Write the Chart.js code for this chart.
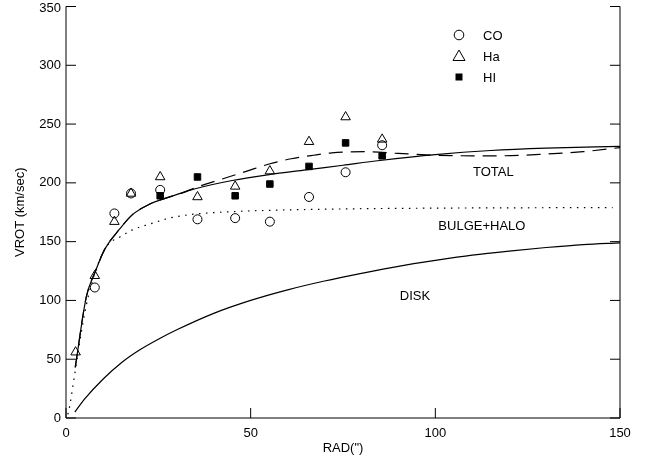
<!DOCTYPE html>
<html>
<head>
<meta charset="utf-8">
<script src="https://cdn.jsdelivr.net/npm/chart.js@4.4.1/dist/chart.umd.min.js"></script>
<style>
  html, body { margin: 0; padding: 0; background: #fff; }
  #wrap { width: 650px; height: 461px; }
</style>
</head>
<body>
<div id="wrap"><canvas id="rotChart"></canvas></div>
<script>
// observed points
const radCO = [7.8, 13.1, 17.6, 25.5, 35.6, 45.8, 55.2, 65.8, 75.7, 85.6];
const vrotCO = [111, 174, 191, 194, 169, 170, 167, 188, 209, 232];

const radHa = [2.6, 7.8, 13.1, 17.6, 25.5, 35.6, 45.8, 55.2, 65.8, 75.7, 85.6];
const vrotHa = [56, 121, 167, 191, 205, 188, 197, 210, 235, 256, 237];

const radHI = [25.5, 35.6, 45.8, 55.2, 65.8, 75.7, 85.6];
const vrotHI = [189, 205, 189, 199, 214, 234, 223];

// model curves
const radTotal = [2.5, 5.5, 8, 10.4, 14.6, 18, 22.7, 26, 31, 35, 45, 55, 65, 75, 85, 100, 115, 130, 150];
const vrotTotal = [43, 103, 125, 143, 161, 173, 182, 186, 191, 195, 202, 207, 211, 215, 219, 224, 227.5, 229.5, 231];

const radBulge = [0.5, 1, 2, 3, 4, 5, 6, 8, 11, 14.6, 18, 22.7, 28, 33.6, 45, 60, 80, 100, 148];
const vrotBulge = [3, 10, 30, 50, 70, 88, 103, 125, 146, 154, 160, 165, 170, 173, 175.5, 177, 178, 178.5, 179];

const radDisk = [2.4, 5, 10, 15, 20, 25, 30, 40, 50, 60, 70, 80, 90, 100, 110, 120, 130, 140, 150];
const vrotDisk = [5, 16, 33, 47, 58, 67, 75, 89, 100, 109, 116.5, 123, 129, 134, 138.5, 142, 145, 147.5, 149];

const radDash = [2.5, 5.5, 8, 10.4, 14.6, 18, 22.7, 26, 31, 36, 42, 49, 55, 61, 67, 72, 81, 90, 100, 110, 117, 130, 140, 150];
const vrotDash = [43, 103, 125, 143, 161, 173, 182, 186, 191, 197, 203, 210, 216, 220.5, 223.5, 225.5, 226.5, 225, 223.5, 223, 223, 224.5, 226.5, 230];

const xTicks = [0, 50, 100, 150];
const yTicks = [0, 50, 100, 150, 200, 250, 300, 350];

// curve names placed in data space
const curveNames = ['TOTAL', 'BULGE+HALO', 'DISK'];
const nameRad = [115.7, 112.6, 94.5];
const nameVrot = [208.8, 163.2, 103.7];

const legendNames = ['CO', 'Ha', 'HI'];

const FONT = "'Liberation Sans', Arial, Helvetica, sans-serif";

function toXY(xs, ys) {
    return xs.map((x, i) => ({ x: x, y: ys[i] }));
}

function curve(xs, ys, dash) {
    return {
        data: toXY(xs, ys),
        showLine: true,
        borderColor: '#000',
        borderWidth: 1.2,
        borderDash: dash,
        pointRadius: 0,
        cubicInterpolationMode: 'monotone',
        fill: false
    };
}

function marks(xs, ys, style, radius, filled) {
    return {
        data: toXY(xs, ys),
        showLine: false,
        pointStyle: style,
        pointRadius: radius,
        pointHoverRadius: radius,
        pointBorderColor: '#000',
        pointBorderWidth: 1,
        pointBackgroundColor: filled ? '#000' : 'rgba(0,0,0,0)'
    };
}

// axis frame with inward ticks, y labels, right axis, curve names and legend
const framePlugin = {
    id: 'frame',
    afterDraw(chart) {
        const ctx = chart.ctx;
        const area = chart.chartArea;
        const sx = chart.scales.x;
        const sy = chart.scales.y;
        const len = 10;
        ctx.save();
        ctx.strokeStyle = '#000';
        ctx.lineWidth = 1;
        ctx.beginPath();
        ctx.moveTo(area.left, area.top);
        ctx.lineTo(area.left, area.bottom);
        ctx.lineTo(area.right, area.bottom);
        ctx.lineTo(area.right, area.top);
        xTicks.forEach(v => {
            const px = sx.getPixelForValue(v);
            ctx.moveTo(px, area.bottom);
            ctx.lineTo(px, area.bottom - len);
        });
        yTicks.forEach(v => {
            const py = sy.getPixelForValue(v);
            ctx.moveTo(area.left, py);
            ctx.lineTo(area.left + len, py);
            ctx.moveTo(area.right, py);
            ctx.lineTo(area.right - len, py);
        });
        ctx.stroke();

        ctx.fillStyle = '#000';
        ctx.font = '13px ' + FONT;
        ctx.textBaseline = 'middle';

        // y tick labels (top one kept inside the canvas)
        ctx.textAlign = 'right';
        yTicks.forEach(v => {
            const py = Math.max(sy.getPixelForValue(v), 8);
            ctx.fillText(String(v), area.left - 5, py);
        });

        ctx.textAlign = 'center';
        curveNames.forEach((t, i) => {
            ctx.fillText(t, sx.getPixelForValue(nameRad[i]), sy.getPixelForValue(nameVrot[i]));
        });

        // legend, top right
        const lx = area.left + 393;
        const ly = [35, 56, 77];
        ctx.beginPath();
        ctx.arc(lx, ly[0], 4.8, 0, Math.PI * 2);
        ctx.stroke();
        ctx.beginPath();
        ctx.moveTo(lx, ly[1] - 6);
        ctx.lineTo(lx + 6, ly[1] + 4.5);
        ctx.lineTo(lx - 6, ly[1] + 4.5);
        ctx.closePath();
        ctx.stroke();
        ctx.fillRect(lx - 3.5, ly[2] - 3.5, 7, 7);
        ctx.textAlign = 'left';
        legendNames.forEach((t, i) => ctx.fillText(t, lx + 24, ly[i] + 1));
        ctx.restore();
    }
};

const ctx = document.getElementById('rotChart').getContext('2d');
new Chart(ctx, {
    type: 'scatter',
    data: {
        datasets: [
            curve(radTotal, vrotTotal, []),
            curve(radDash, vrotDash, [14, 8]),
            curve(radBulge, vrotBulge, [1.5, 5.5]),
            curve(radDisk, vrotDisk, []),
            marks(radCO, vrotCO, 'circle', 4.5, false),
            marks(radHa, vrotHa, 'triangle', 5.5, false),
            marks(radHI, vrotHI, 'rect', 4.6, true)
        ]
    },
    options: {
        responsive: true,
        maintainAspectRatio: false,
        animation: false,
        events: [],
        layout: { padding: { left: 0, right: 30, top: 3, bottom: 0 } },
        plugins: {
            legend: { display: false },
            tooltip: { enabled: false }
        },
        scales: {
            x: {
                type: 'linear',
                min: 0,
                max: 150,
                afterBuildTicks: s => { s.ticks = xTicks.map(v => ({ value: v })); },
                afterFit: s => { s.height = 43; },
                grid: { display: false },
                border: { display: false },
                ticks: { color: '#000', padding: 0, maxRotation: 0, font: { family: FONT, size: 13 } },
                title: {
                    display: true,
                    text: 'RAD(")',
                    color: '#000',
                    padding: { top: 0, bottom: 5 },
                    font: { family: FONT, size: 13 }
                }
            },
            y: {
                type: 'linear',
                min: 0,
                max: 350,
                afterBuildTicks: s => { s.ticks = yTicks.map(v => ({ value: v })); },
                afterFit: s => { s.width = 66; },
                grid: { display: false },
                border: { display: false },
                ticks: { display: false },
                title: {
                    display: true,
                    text: 'VROT (km/sec)',
                    color: '#000',
                    padding: { top: 13, bottom: 0 },
                    font: { family: FONT, size: 13 }
                }
            }
        }
    },
    plugins: [framePlugin]
});
</script>
</body>
</html>
